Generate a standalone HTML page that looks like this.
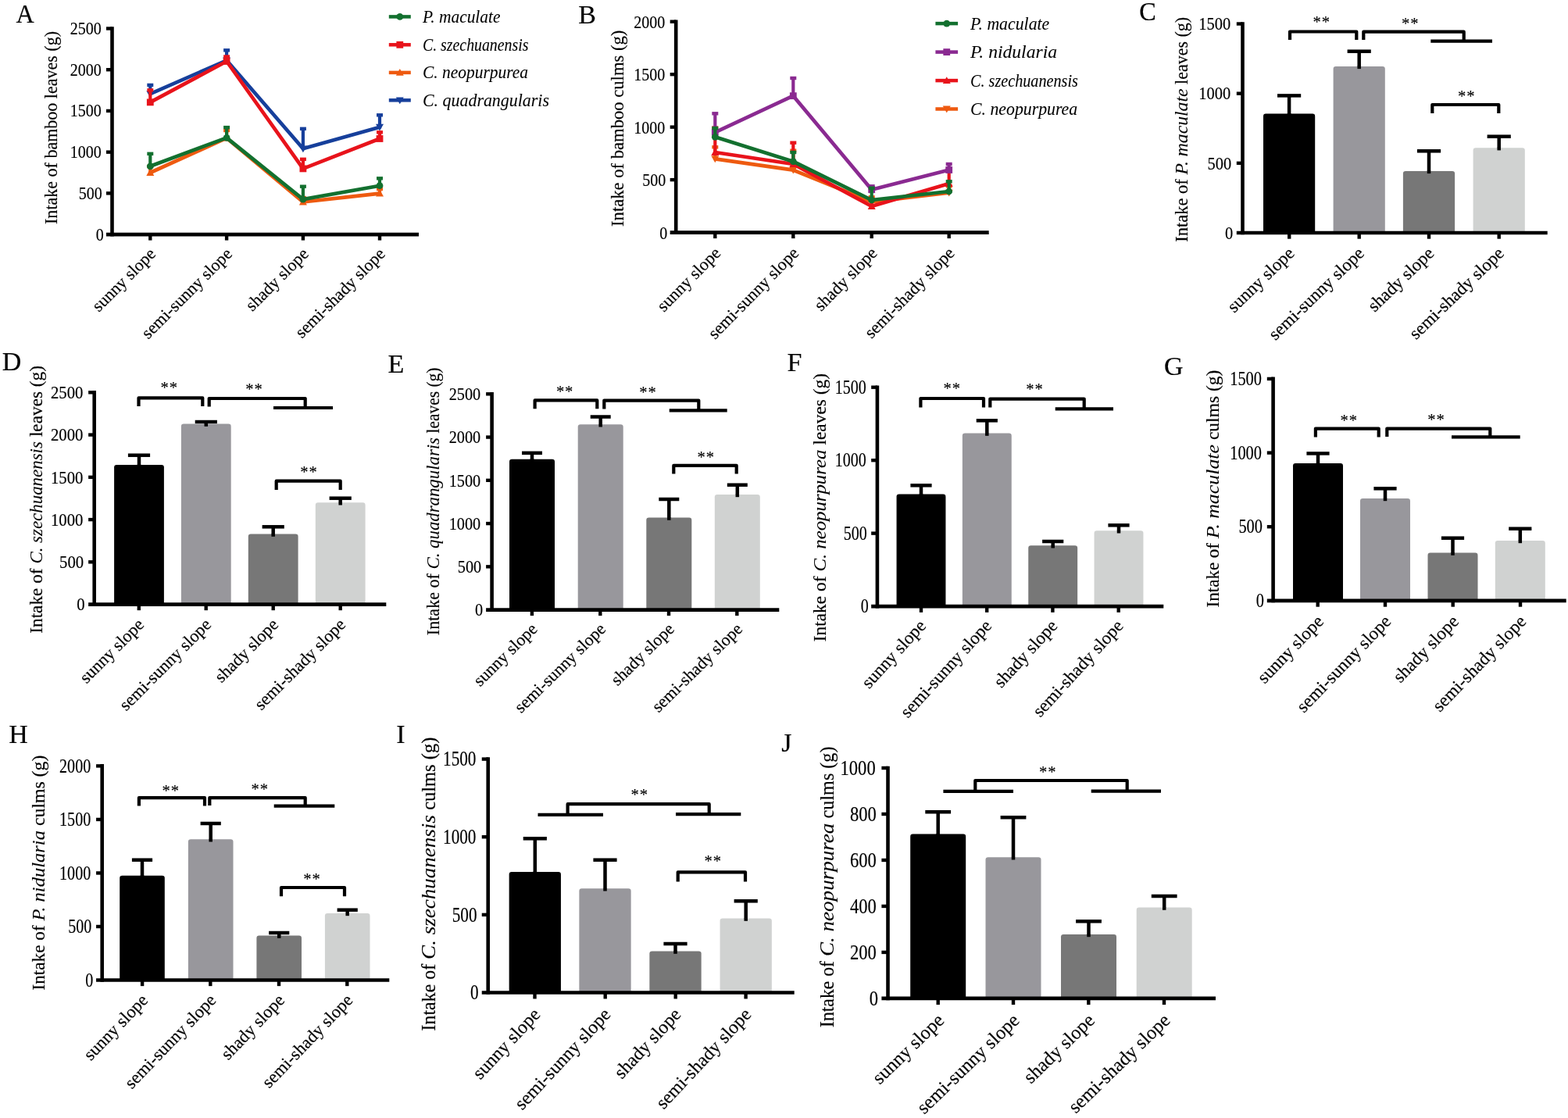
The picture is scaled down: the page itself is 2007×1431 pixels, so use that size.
<!DOCTYPE html>
<html lang="en">
<head>
<meta charset="utf-8">
<title>Intake of bamboo leaves and culms by slope aspect</title>
<style>
html,body{margin:0;padding:0;background:#fff;}
body{width:2007px;height:1431px;overflow:hidden;}
svg{display:block;font-family:'Liberation Serif', 'DejaVu Serif', serif;}
svg text{white-space:pre;}
</style>
</head>
<body>
<svg width="2007" height="1431" viewBox="0 0 2007 1431">
<rect width="2007" height="1431" fill="#fff"/>
<g id="panel-A">
<line x1="192.3" y1="120.2" x2="192.3" y2="108.9" stroke="#163f9b" stroke-width="4.2" stroke-linecap="butt"/>
<line x1="188.3" y1="108.9" x2="196.3" y2="108.9" stroke="#163f9b" stroke-width="4.4" stroke-linecap="butt"/>
<line x1="290.1" y1="77.3" x2="290.1" y2="64.3" stroke="#163f9b" stroke-width="4.2" stroke-linecap="butt"/>
<line x1="286.1" y1="64.3" x2="294.1" y2="64.3" stroke="#163f9b" stroke-width="4.4" stroke-linecap="butt"/>
<line x1="387.9" y1="190.3" x2="387.9" y2="164.8" stroke="#163f9b" stroke-width="4.2" stroke-linecap="butt"/>
<line x1="383.9" y1="164.8" x2="391.9" y2="164.8" stroke="#163f9b" stroke-width="4.4" stroke-linecap="butt"/>
<line x1="486" y1="162.7" x2="486" y2="147.3" stroke="#163f9b" stroke-width="4.2" stroke-linecap="butt"/>
<line x1="482" y1="147.3" x2="490" y2="147.3" stroke="#163f9b" stroke-width="4.4" stroke-linecap="butt"/>
<polyline points="192.3,120.2 290.1,77.3 387.9,190.3 486,162.7" fill="none" stroke="#163f9b" stroke-width="4.7" stroke-linejoin="round" stroke-linecap="round"/>
<path d="M192.3 125.1L197.3 116.3H187.3Z" fill="#163f9b"/>
<path d="M290.1 82.2L295.1 73.4H285.1Z" fill="#163f9b"/>
<path d="M387.9 195.2L392.9 186.4H382.9Z" fill="#163f9b"/>
<path d="M486 167.6L491 158.8H481Z" fill="#163f9b"/>
<line x1="192.3" y1="221" x2="192.3" y2="213" stroke="#ee5a10" stroke-width="4.2" stroke-linecap="butt"/>
<line x1="188.3" y1="213" x2="196.3" y2="213" stroke="#ee5a10" stroke-width="4.4" stroke-linecap="butt"/>
<line x1="290.1" y1="176.7" x2="290.1" y2="167" stroke="#ee5a10" stroke-width="4.2" stroke-linecap="butt"/>
<line x1="286.1" y1="167" x2="294.1" y2="167" stroke="#ee5a10" stroke-width="4.4" stroke-linecap="butt"/>
<line x1="387.9" y1="258.5" x2="387.9" y2="253" stroke="#ee5a10" stroke-width="4.2" stroke-linecap="butt"/>
<line x1="383.9" y1="253" x2="391.9" y2="253" stroke="#ee5a10" stroke-width="4.4" stroke-linecap="butt"/>
<line x1="486" y1="247.7" x2="486" y2="242" stroke="#ee5a10" stroke-width="4.2" stroke-linecap="butt"/>
<line x1="482" y1="242" x2="490" y2="242" stroke="#ee5a10" stroke-width="4.4" stroke-linecap="butt"/>
<polyline points="192.3,221 290.1,176.7 387.9,258.5 486,247.7" fill="none" stroke="#ee5a10" stroke-width="4.7" stroke-linejoin="round" stroke-linecap="round"/>
<path d="M192.3 216.1L197.3 224.9H187.3Z" fill="#ee5a10"/>
<path d="M290.1 171.8L295.1 180.6H285.1Z" fill="#ee5a10"/>
<path d="M387.9 253.6L392.9 262.4H382.9Z" fill="#ee5a10"/>
<path d="M486 242.8L491 251.6H481Z" fill="#ee5a10"/>
<line x1="192.3" y1="130.9" x2="192.3" y2="115.4" stroke="#e8131b" stroke-width="4.2" stroke-linecap="butt"/>
<line x1="188.3" y1="115.4" x2="196.3" y2="115.4" stroke="#e8131b" stroke-width="4.4" stroke-linecap="butt"/>
<line x1="290.1" y1="78.5" x2="290.1" y2="72.5" stroke="#e8131b" stroke-width="4.2" stroke-linecap="butt"/>
<line x1="286.1" y1="72.5" x2="294.1" y2="72.5" stroke="#e8131b" stroke-width="4.4" stroke-linecap="butt"/>
<line x1="387.9" y1="215.9" x2="387.9" y2="203.8" stroke="#e8131b" stroke-width="4.2" stroke-linecap="butt"/>
<line x1="383.9" y1="203.8" x2="391.9" y2="203.8" stroke="#e8131b" stroke-width="4.4" stroke-linecap="butt"/>
<line x1="486" y1="177.5" x2="486" y2="169.3" stroke="#e8131b" stroke-width="4.2" stroke-linecap="butt"/>
<line x1="482" y1="169.3" x2="490" y2="169.3" stroke="#e8131b" stroke-width="4.4" stroke-linecap="butt"/>
<polyline points="192.3,130.9 290.1,78.5 387.9,215.9 486,177.5" fill="none" stroke="#e8131b" stroke-width="4.7" stroke-linejoin="round" stroke-linecap="round"/>
<rect x="187.9" y="126.5" width="8.8" height="8.8" fill="#e8131b"/>
<rect x="285.7" y="74.1" width="8.8" height="8.8" fill="#e8131b"/>
<rect x="383.5" y="211.5" width="8.8" height="8.8" fill="#e8131b"/>
<rect x="481.6" y="173.1" width="8.8" height="8.8" fill="#e8131b"/>
<line x1="192.3" y1="212.8" x2="192.3" y2="196.8" stroke="#13702f" stroke-width="4.2" stroke-linecap="butt"/>
<line x1="188.3" y1="196.8" x2="196.3" y2="196.8" stroke="#13702f" stroke-width="4.4" stroke-linecap="butt"/>
<line x1="290.1" y1="176.4" x2="290.1" y2="163.1" stroke="#13702f" stroke-width="4.2" stroke-linecap="butt"/>
<line x1="286.1" y1="163.1" x2="294.1" y2="163.1" stroke="#13702f" stroke-width="4.4" stroke-linecap="butt"/>
<line x1="387.9" y1="255.1" x2="387.9" y2="238.7" stroke="#13702f" stroke-width="4.2" stroke-linecap="butt"/>
<line x1="383.9" y1="238.7" x2="391.9" y2="238.7" stroke="#13702f" stroke-width="4.4" stroke-linecap="butt"/>
<line x1="486" y1="237.7" x2="486" y2="228.3" stroke="#13702f" stroke-width="4.2" stroke-linecap="butt"/>
<line x1="482" y1="228.3" x2="490" y2="228.3" stroke="#13702f" stroke-width="4.4" stroke-linecap="butt"/>
<polyline points="192.3,212.8 290.1,176.4 387.9,255.1 486,237.7" fill="none" stroke="#13702f" stroke-width="4.7" stroke-linejoin="round" stroke-linecap="round"/>
<circle cx="192.3" cy="212.8" r="4.4" fill="#13702f"/>
<circle cx="290.1" cy="176.4" r="4.4" fill="#13702f"/>
<circle cx="387.9" cy="255.1" r="4.4" fill="#13702f"/>
<circle cx="486" cy="237.7" r="4.4" fill="#13702f"/>
<line x1="143.5" y1="34.2" x2="143.5" y2="302.4" stroke="#000" stroke-width="4.6" stroke-linecap="butt"/>
<line x1="136" y1="300.1" x2="536" y2="300.1" stroke="#000" stroke-width="4.6" stroke-linecap="butt"/>
<text transform="translate(122.86 307.65) scale(0.875 1)" font-size="22.88" text-anchor="start" fill="#000" stroke="#000" stroke-width="0.18">0</text>
<line x1="136" y1="247.38" x2="143.5" y2="247.38" stroke="#000" stroke-width="4.4" stroke-linecap="butt"/>
<text transform="translate(100.86 254.93) scale(0.875 1)" font-size="22.88" text-anchor="start" fill="#000" stroke="#000" stroke-width="0.18">500</text>
<line x1="136" y1="194.66" x2="143.5" y2="194.66" stroke="#000" stroke-width="4.4" stroke-linecap="butt"/>
<text transform="translate(89.86 202.21) scale(0.875 1)" font-size="22.88" text-anchor="start" fill="#000" stroke="#000" stroke-width="0.18">1000</text>
<line x1="136" y1="141.94" x2="143.5" y2="141.94" stroke="#000" stroke-width="4.4" stroke-linecap="butt"/>
<text transform="translate(89.86 149.49) scale(0.875 1)" font-size="22.88" text-anchor="start" fill="#000" stroke="#000" stroke-width="0.18">1500</text>
<line x1="136" y1="89.22" x2="143.5" y2="89.22" stroke="#000" stroke-width="4.4" stroke-linecap="butt"/>
<text transform="translate(89.86 96.77) scale(0.875 1)" font-size="22.88" text-anchor="start" fill="#000" stroke="#000" stroke-width="0.18">2000</text>
<line x1="136" y1="36.5" x2="143.5" y2="36.5" stroke="#000" stroke-width="4.4" stroke-linecap="butt"/>
<text transform="translate(89.86 44.05) scale(0.875 1)" font-size="22.88" text-anchor="start" fill="#000" stroke="#000" stroke-width="0.18">2500</text>
<line x1="192.3" y1="300.1" x2="192.3" y2="307.6" stroke="#000" stroke-width="4.4" stroke-linecap="butt"/>
<text transform="translate(200.5 326.2) rotate(-45)" font-size="22" text-anchor="end" fill="#000" stroke="#000" stroke-width="0.18">sunny slope</text>
<line x1="290.1" y1="300.1" x2="290.1" y2="307.6" stroke="#000" stroke-width="4.4" stroke-linecap="butt"/>
<text transform="translate(298.3 326.2) rotate(-45)" font-size="22" text-anchor="end" fill="#000" stroke="#000" stroke-width="0.18">semi-sunny slope</text>
<line x1="387.9" y1="300.1" x2="387.9" y2="307.6" stroke="#000" stroke-width="4.4" stroke-linecap="butt"/>
<text transform="translate(396.1 326.2) rotate(-45)" font-size="22" text-anchor="end" fill="#000" stroke="#000" stroke-width="0.18">shady slope</text>
<line x1="486" y1="300.1" x2="486" y2="307.6" stroke="#000" stroke-width="4.4" stroke-linecap="butt"/>
<text transform="translate(494.2 326.2) rotate(-45)" font-size="22" text-anchor="end" fill="#000" stroke="#000" stroke-width="0.18">semi-shady slope</text>
<text transform="translate(72.6 163.5) rotate(-90) scale(0.983 1)" font-size="22.4" text-anchor="middle" fill="#000" stroke="#000" stroke-width="0.18">Intake of bamboo leaves (g)</text>
<text transform="translate(20.4 29.3) scale(0.95 1)" font-size="34" text-anchor="start" fill="#000" stroke="#000" stroke-width="0.18">A</text>
<line x1="497.8" y1="21.4" x2="525.8" y2="21.4" stroke="#13702f" stroke-width="4.5" stroke-linecap="butt"/>
<circle cx="511.8" cy="21.4" r="4.4" fill="#13702f"/>
<text transform="translate(541 28.8) scale(0.947 1)" font-size="22.6" text-anchor="start" font-style="italic" fill="#000" stroke="#000" stroke-width="0.05">P. maculate</text>
<line x1="497.8" y1="57.3" x2="525.8" y2="57.3" stroke="#e8131b" stroke-width="4.5" stroke-linecap="butt"/>
<rect x="507.4" y="52.9" width="8.8" height="8.8" fill="#e8131b"/>
<text transform="translate(541 64.7) scale(0.877 1)" font-size="22.6" text-anchor="start" font-style="italic" fill="#000" stroke="#000" stroke-width="0.05">C. szechuanensis</text>
<line x1="497.8" y1="92.9" x2="525.8" y2="92.9" stroke="#ee5a10" stroke-width="4.5" stroke-linecap="butt"/>
<path d="M511.8 88L516.8 96.8H506.8Z" fill="#ee5a10"/>
<text transform="translate(541 100.3) scale(0.949 1)" font-size="22.6" text-anchor="start" font-style="italic" fill="#000" stroke="#000" stroke-width="0.05">C. neopurpurea</text>
<line x1="497.8" y1="128.3" x2="525.8" y2="128.3" stroke="#163f9b" stroke-width="4.5" stroke-linecap="butt"/>
<path d="M511.8 133.2L516.8 124.4H506.8Z" fill="#163f9b"/>
<text transform="translate(541 135.7) scale(0.97 1)" font-size="22.6" text-anchor="start" font-style="italic" fill="#000" stroke="#000" stroke-width="0.05">C. quadrangularis</text>
</g>
<g id="panel-B">
<line x1="915.3" y1="203.4" x2="915.3" y2="188.3" stroke="#ee5a10" stroke-width="4.2" stroke-linecap="butt"/>
<line x1="911.3" y1="188.3" x2="919.3" y2="188.3" stroke="#ee5a10" stroke-width="4.4" stroke-linecap="butt"/>
<line x1="1015.3" y1="217.7" x2="1015.3" y2="192.7" stroke="#ee5a10" stroke-width="4.2" stroke-linecap="butt"/>
<line x1="1011.3" y1="192.7" x2="1019.3" y2="192.7" stroke="#ee5a10" stroke-width="4.4" stroke-linecap="butt"/>
<line x1="1115.7" y1="258.3" x2="1115.7" y2="252.3" stroke="#ee5a10" stroke-width="4.2" stroke-linecap="butt"/>
<line x1="1111.7" y1="252.3" x2="1119.7" y2="252.3" stroke="#ee5a10" stroke-width="4.4" stroke-linecap="butt"/>
<line x1="1214.7" y1="246.7" x2="1214.7" y2="238.3" stroke="#ee5a10" stroke-width="4.2" stroke-linecap="butt"/>
<line x1="1210.7" y1="238.3" x2="1218.7" y2="238.3" stroke="#ee5a10" stroke-width="4.4" stroke-linecap="butt"/>
<polyline points="915.3,203.4 1015.3,217.7 1115.7,258.3 1214.7,246.7" fill="none" stroke="#ee5a10" stroke-width="4.7" stroke-linejoin="round" stroke-linecap="round"/>
<path d="M915.3 208.3L920.3 199.5H910.3Z" fill="#ee5a10"/>
<path d="M1015.3 222.6L1020.3 213.8H1010.3Z" fill="#ee5a10"/>
<path d="M1115.7 263.2L1120.7 254.4H1110.7Z" fill="#ee5a10"/>
<path d="M1214.7 251.6L1219.7 242.8H1209.7Z" fill="#ee5a10"/>
<line x1="915.3" y1="195" x2="915.3" y2="163.6" stroke="#e8131b" stroke-width="4.2" stroke-linecap="butt"/>
<line x1="911.3" y1="163.6" x2="919.3" y2="163.6" stroke="#e8131b" stroke-width="4.4" stroke-linecap="butt"/>
<line x1="1015.3" y1="210" x2="1015.3" y2="182.7" stroke="#e8131b" stroke-width="4.2" stroke-linecap="butt"/>
<line x1="1011.3" y1="182.7" x2="1019.3" y2="182.7" stroke="#e8131b" stroke-width="4.4" stroke-linecap="butt"/>
<line x1="1115.7" y1="264" x2="1115.7" y2="255" stroke="#e8131b" stroke-width="4.2" stroke-linecap="butt"/>
<line x1="1111.7" y1="255" x2="1119.7" y2="255" stroke="#e8131b" stroke-width="4.4" stroke-linecap="butt"/>
<line x1="1214.7" y1="235" x2="1214.7" y2="216.7" stroke="#e8131b" stroke-width="4.2" stroke-linecap="butt"/>
<line x1="1210.7" y1="216.7" x2="1218.7" y2="216.7" stroke="#e8131b" stroke-width="4.4" stroke-linecap="butt"/>
<polyline points="915.3,195 1015.3,210 1115.7,264 1214.7,235" fill="none" stroke="#e8131b" stroke-width="4.7" stroke-linejoin="round" stroke-linecap="round"/>
<path d="M915.3 190.1L920.3 198.9H910.3Z" fill="#e8131b"/>
<path d="M1015.3 205.1L1020.3 213.9H1010.3Z" fill="#e8131b"/>
<path d="M1115.7 259.1L1120.7 267.9H1110.7Z" fill="#e8131b"/>
<path d="M1214.7 230.1L1219.7 238.9H1209.7Z" fill="#e8131b"/>
<line x1="915.3" y1="169.3" x2="915.3" y2="145.3" stroke="#8a2a91" stroke-width="4.2" stroke-linecap="butt"/>
<line x1="911.3" y1="145.3" x2="919.3" y2="145.3" stroke="#8a2a91" stroke-width="4.4" stroke-linecap="butt"/>
<line x1="1015.3" y1="122.7" x2="1015.3" y2="100" stroke="#8a2a91" stroke-width="4.2" stroke-linecap="butt"/>
<line x1="1011.3" y1="100" x2="1019.3" y2="100" stroke="#8a2a91" stroke-width="4.4" stroke-linecap="butt"/>
<line x1="1115.7" y1="242.7" x2="1115.7" y2="238.3" stroke="#8a2a91" stroke-width="4.2" stroke-linecap="butt"/>
<line x1="1111.7" y1="238.3" x2="1119.7" y2="238.3" stroke="#8a2a91" stroke-width="4.4" stroke-linecap="butt"/>
<line x1="1214.7" y1="217.5" x2="1214.7" y2="210" stroke="#8a2a91" stroke-width="4.2" stroke-linecap="butt"/>
<line x1="1210.7" y1="210" x2="1218.7" y2="210" stroke="#8a2a91" stroke-width="4.4" stroke-linecap="butt"/>
<polyline points="915.3,169.3 1015.3,122.7 1115.7,242.7 1214.7,217.5" fill="none" stroke="#8a2a91" stroke-width="4.7" stroke-linejoin="round" stroke-linecap="round"/>
<rect x="910.9" y="164.9" width="8.8" height="8.8" fill="#8a2a91"/>
<rect x="1010.9" y="118.3" width="8.8" height="8.8" fill="#8a2a91"/>
<rect x="1111.3" y="238.3" width="8.8" height="8.8" fill="#8a2a91"/>
<rect x="1210.3" y="213.1" width="8.8" height="8.8" fill="#8a2a91"/>
<line x1="915.3" y1="175.3" x2="915.3" y2="164" stroke="#13702f" stroke-width="4.2" stroke-linecap="butt"/>
<line x1="911.3" y1="164" x2="919.3" y2="164" stroke="#13702f" stroke-width="4.4" stroke-linecap="butt"/>
<line x1="1015.3" y1="206.7" x2="1015.3" y2="195" stroke="#13702f" stroke-width="4.2" stroke-linecap="butt"/>
<line x1="1011.3" y1="195" x2="1019.3" y2="195" stroke="#13702f" stroke-width="4.4" stroke-linecap="butt"/>
<line x1="1115.7" y1="256" x2="1115.7" y2="240.7" stroke="#13702f" stroke-width="4.2" stroke-linecap="butt"/>
<line x1="1111.7" y1="240.7" x2="1119.7" y2="240.7" stroke="#13702f" stroke-width="4.4" stroke-linecap="butt"/>
<line x1="1214.7" y1="245" x2="1214.7" y2="232.3" stroke="#13702f" stroke-width="4.2" stroke-linecap="butt"/>
<line x1="1210.7" y1="232.3" x2="1218.7" y2="232.3" stroke="#13702f" stroke-width="4.4" stroke-linecap="butt"/>
<polyline points="915.3,175.3 1015.3,206.7 1115.7,256 1214.7,245" fill="none" stroke="#13702f" stroke-width="4.7" stroke-linejoin="round" stroke-linecap="round"/>
<circle cx="915.3" cy="175.3" r="4.4" fill="#13702f"/>
<circle cx="1015.3" cy="206.7" r="4.4" fill="#13702f"/>
<circle cx="1115.7" cy="256" r="4.4" fill="#13702f"/>
<circle cx="1214.7" cy="245" r="4.4" fill="#13702f"/>
<line x1="865.2" y1="25.4" x2="865.2" y2="299.9" stroke="#000" stroke-width="4.6" stroke-linecap="butt"/>
<line x1="857.66" y1="297.6" x2="1265.7" y2="297.6" stroke="#000" stroke-width="4.6" stroke-linecap="butt"/>
<text transform="translate(844.26 305.51) scale(0.835 1)" font-size="23.98" text-anchor="start" fill="#000" stroke="#000" stroke-width="0.18">0</text>
<line x1="857.66" y1="230.12" x2="865.2" y2="230.12" stroke="#000" stroke-width="4.4" stroke-linecap="butt"/>
<text transform="translate(822.26 238.04) scale(0.835 1)" font-size="23.98" text-anchor="start" fill="#000" stroke="#000" stroke-width="0.18">500</text>
<line x1="857.66" y1="162.65" x2="865.2" y2="162.65" stroke="#000" stroke-width="4.4" stroke-linecap="butt"/>
<text transform="translate(811.26 170.56) scale(0.835 1)" font-size="23.98" text-anchor="start" fill="#000" stroke="#000" stroke-width="0.18">1000</text>
<line x1="857.66" y1="95.18" x2="865.2" y2="95.18" stroke="#000" stroke-width="4.4" stroke-linecap="butt"/>
<text transform="translate(811.26 103.09) scale(0.835 1)" font-size="23.98" text-anchor="start" fill="#000" stroke="#000" stroke-width="0.18">1500</text>
<line x1="857.66" y1="27.7" x2="865.2" y2="27.7" stroke="#000" stroke-width="4.4" stroke-linecap="butt"/>
<text transform="translate(811.26 35.61) scale(0.835 1)" font-size="23.98" text-anchor="start" fill="#000" stroke="#000" stroke-width="0.18">2000</text>
<line x1="915.3" y1="297.6" x2="915.3" y2="305.14" stroke="#000" stroke-width="4.4" stroke-linecap="butt"/>
<text transform="translate(923.56 325.2) rotate(-45.43)" font-size="22.17" text-anchor="end" fill="#000" stroke="#000" stroke-width="0.18">sunny slope</text>
<line x1="1015.3" y1="297.6" x2="1015.3" y2="305.14" stroke="#000" stroke-width="4.4" stroke-linecap="butt"/>
<text transform="translate(1023.56 325.2) rotate(-45.43)" font-size="22.17" text-anchor="end" fill="#000" stroke="#000" stroke-width="0.18">semi-sunny slope</text>
<line x1="1115.7" y1="297.6" x2="1115.7" y2="305.14" stroke="#000" stroke-width="4.4" stroke-linecap="butt"/>
<text transform="translate(1123.96 325.2) rotate(-45.43)" font-size="22.17" text-anchor="end" fill="#000" stroke="#000" stroke-width="0.18">shady slope</text>
<line x1="1214.7" y1="297.6" x2="1214.7" y2="305.14" stroke="#000" stroke-width="4.4" stroke-linecap="butt"/>
<text transform="translate(1222.96 325.2) rotate(-45.43)" font-size="22.17" text-anchor="end" fill="#000" stroke="#000" stroke-width="0.18">semi-shady slope</text>
<text transform="translate(797.6 164.3) rotate(-90) scale(1.001 1)" font-size="22.6" text-anchor="middle" fill="#000" stroke="#000" stroke-width="0.18">Intake of bamboo culms (g)</text>
<text transform="translate(740.3 29.9)" font-size="34" text-anchor="start" fill="#000" stroke="#000" stroke-width="0.18">B</text>
<line x1="1197.4" y1="30.1" x2="1226.1" y2="30.1" stroke="#13702f" stroke-width="4.5" stroke-linecap="butt"/>
<circle cx="1211.75" cy="30.1" r="4.4" fill="#13702f"/>
<text transform="translate(1242 37.5) scale(0.948 1)" font-size="23" text-anchor="start" font-style="italic" fill="#000" stroke="#000" stroke-width="0.05">P. maculate</text>
<line x1="1197.4" y1="66.6" x2="1226.1" y2="66.6" stroke="#8a2a91" stroke-width="4.5" stroke-linecap="butt"/>
<rect x="1207.35" y="62.2" width="8.8" height="8.8" fill="#8a2a91"/>
<text transform="translate(1242 74) scale(1.026 1)" font-size="23" text-anchor="start" font-style="italic" fill="#000" stroke="#000" stroke-width="0.05">P. nidularia</text>
<line x1="1197.4" y1="103.1" x2="1226.1" y2="103.1" stroke="#e8131b" stroke-width="4.5" stroke-linecap="butt"/>
<path d="M1211.75 98.2L1216.75 107H1206.75Z" fill="#e8131b"/>
<text transform="translate(1242 110.5) scale(0.878 1)" font-size="23" text-anchor="start" font-style="italic" fill="#000" stroke="#000" stroke-width="0.05">C. szechuanensis</text>
<line x1="1197.4" y1="139.5" x2="1226.1" y2="139.5" stroke="#ee5a10" stroke-width="4.5" stroke-linecap="butt"/>
<path d="M1211.75 144.4L1216.75 135.6H1206.75Z" fill="#ee5a10"/>
<text transform="translate(1242 146.9) scale(0.948 1)" font-size="23" text-anchor="start" font-style="italic" fill="#000" stroke="#000" stroke-width="0.05">C. neopurpurea</text>
</g>
<g id="panel-C">
<line x1="1650.1" y1="148.5" x2="1650.1" y2="122.4" stroke="#000" stroke-width="4.5" stroke-linecap="butt"/>
<line x1="1635" y1="122.4" x2="1665.2" y2="122.4" stroke="#000" stroke-width="4.5" stroke-linecap="butt"/>
<line x1="1739.7" y1="87.9" x2="1739.7" y2="65.7" stroke="#000" stroke-width="4.5" stroke-linecap="butt"/>
<line x1="1724.6" y1="65.7" x2="1754.8" y2="65.7" stroke="#000" stroke-width="4.5" stroke-linecap="butt"/>
<line x1="1829" y1="221.9" x2="1829" y2="193.3" stroke="#000" stroke-width="4.5" stroke-linecap="butt"/>
<line x1="1813.9" y1="193.3" x2="1844.1" y2="193.3" stroke="#000" stroke-width="4.5" stroke-linecap="butt"/>
<line x1="1918.7" y1="192.2" x2="1918.7" y2="174.7" stroke="#000" stroke-width="4.5" stroke-linecap="butt"/>
<line x1="1903.6" y1="174.7" x2="1933.8" y2="174.7" stroke="#000" stroke-width="4.5" stroke-linecap="butt"/>
<path d="M1617 298V148.7Q1617 145.5 1620.2 145.5H1680Q1683.2 145.5 1683.2 148.7V298Z" fill="#000000"/>
<line x1="1650.1" y1="145" x2="1650.1" y2="148.7" stroke="#000" stroke-width="4.5" stroke-linecap="butt"/>
<path d="M1706.6 298V88.1Q1706.6 84.9 1709.8 84.9H1769.6Q1772.8 84.9 1772.8 88.1V298Z" fill="#98979c"/>
<line x1="1739.7" y1="84.4" x2="1739.7" y2="88.1" stroke="#000" stroke-width="4.5" stroke-linecap="butt"/>
<path d="M1795.9 298V222.1Q1795.9 218.9 1799.1 218.9H1858.9Q1862.1 218.9 1862.1 222.1V298Z" fill="#777777"/>
<line x1="1829" y1="218.4" x2="1829" y2="222.1" stroke="#000" stroke-width="4.5" stroke-linecap="butt"/>
<path d="M1885.6 298V192.4Q1885.6 189.2 1888.8 189.2H1948.6Q1951.8 189.2 1951.8 192.4V298Z" fill="#d0d2d1"/>
<line x1="1918.7" y1="188.7" x2="1918.7" y2="192.4" stroke="#000" stroke-width="4.5" stroke-linecap="butt"/>
<line x1="1590.5" y1="28.2" x2="1590.5" y2="300.3" stroke="#000" stroke-width="4.6" stroke-linecap="butt"/>
<line x1="1582.79" y1="298" x2="1980.7" y2="298" stroke="#000" stroke-width="4.6" stroke-linecap="butt"/>
<text transform="translate(1567.93 305.69) scale(0.875 1)" font-size="23.3" text-anchor="start" fill="#000" stroke="#000" stroke-width="0.18">0</text>
<line x1="1582.79" y1="208.83" x2="1590.5" y2="208.83" stroke="#000" stroke-width="4.4" stroke-linecap="butt"/>
<text transform="translate(1545.53 216.52) scale(0.875 1)" font-size="23.3" text-anchor="start" fill="#000" stroke="#000" stroke-width="0.18">500</text>
<line x1="1582.79" y1="119.67" x2="1590.5" y2="119.67" stroke="#000" stroke-width="4.4" stroke-linecap="butt"/>
<text transform="translate(1534.33 127.35) scale(0.875 1)" font-size="23.3" text-anchor="start" fill="#000" stroke="#000" stroke-width="0.18">1000</text>
<line x1="1582.79" y1="30.5" x2="1590.5" y2="30.5" stroke="#000" stroke-width="4.4" stroke-linecap="butt"/>
<text transform="translate(1534.33 38.19) scale(0.875 1)" font-size="23.3" text-anchor="start" fill="#000" stroke="#000" stroke-width="0.18">1500</text>
<line x1="1650.2" y1="298" x2="1650.2" y2="305.71" stroke="#000" stroke-width="4.4" stroke-linecap="butt"/>
<text transform="translate(1657.94 325.67) rotate(-43.98)" font-size="22.9" text-anchor="end" fill="#000" stroke="#000" stroke-width="0.18">sunny slope</text>
<line x1="1739.7" y1="298" x2="1739.7" y2="305.71" stroke="#000" stroke-width="4.4" stroke-linecap="butt"/>
<text transform="translate(1747.44 325.67) rotate(-43.98)" font-size="22.9" text-anchor="end" fill="#000" stroke="#000" stroke-width="0.18">semi-sunny slope</text>
<line x1="1829" y1="298" x2="1829" y2="305.71" stroke="#000" stroke-width="4.4" stroke-linecap="butt"/>
<text transform="translate(1836.74 325.67) rotate(-43.98)" font-size="22.9" text-anchor="end" fill="#000" stroke="#000" stroke-width="0.18">shady slope</text>
<line x1="1918.7" y1="298" x2="1918.7" y2="305.71" stroke="#000" stroke-width="4.4" stroke-linecap="butt"/>
<text transform="translate(1926.44 325.67) rotate(-43.98)" font-size="22.9" text-anchor="end" fill="#000" stroke="#000" stroke-width="0.18">semi-shady slope</text>
<text transform="translate(1520.4 309.8) rotate(-90) scale(0.954 1)" font-size="23.6" text-anchor="start" fill="#000" stroke="#000" stroke-width="0.18">Intake of</text>
<text transform="translate(1520.4 223.5) rotate(-90) scale(1.003 1)" font-size="23.6" text-anchor="start" font-style="italic" fill="#000" stroke="#000" stroke-width="0.05">P. maculate</text>
<text transform="translate(1520.4 21.8) rotate(-90) scale(0.933 1)" font-size="23.6" text-anchor="end" fill="#000" stroke="#000" stroke-width="0.18">leaves (g)</text>
<text transform="translate(1458.3 26) scale(0.95 1)" font-size="34" text-anchor="start" fill="#000" stroke="#000" stroke-width="0.18">C</text>
<path d="M1651 51.1V40.5H1736.3V51.1" fill="none" stroke="#000" stroke-width="4.2" stroke-linejoin="round"/>
<path d="M1745.3 51V40.7H1873.7V52.7" fill="none" stroke="#000" stroke-width="4.2" stroke-linejoin="round"/>
<line x1="1831.3" y1="52.7" x2="1910" y2="52.7" stroke="#000" stroke-width="4.2" stroke-linecap="butt"/>
<path d="M1833.3 145V134H1918.3V145" fill="none" stroke="#000" stroke-width="4.2" stroke-linejoin="round"/>
<text transform="translate(1691.75 35.47)" font-size="20.5" text-anchor="middle" fill="#000" stroke="#000" stroke-width="0.1" letter-spacing="0.9">**</text>
<text transform="translate(1805.15 36.67)" font-size="20.5" text-anchor="middle" fill="#000" stroke="#000" stroke-width="0.1" letter-spacing="0.9">**</text>
<text transform="translate(1877.15 129.67)" font-size="20.5" text-anchor="middle" fill="#000" stroke="#000" stroke-width="0.1" letter-spacing="0.9">**</text>
</g>
<g id="panel-D">
<line x1="178" y1="598" x2="178" y2="582.7" stroke="#000" stroke-width="4.5" stroke-linecap="butt"/>
<line x1="163.9" y1="582.7" x2="192.1" y2="582.7" stroke="#000" stroke-width="4.5" stroke-linecap="butt"/>
<line x1="263.8" y1="545.6" x2="263.8" y2="540" stroke="#000" stroke-width="4.5" stroke-linecap="butt"/>
<line x1="249.7" y1="540" x2="277.9" y2="540" stroke="#000" stroke-width="4.5" stroke-linecap="butt"/>
<line x1="349.7" y1="686.6" x2="349.7" y2="674.3" stroke="#000" stroke-width="4.5" stroke-linecap="butt"/>
<line x1="335.6" y1="674.3" x2="363.8" y2="674.3" stroke="#000" stroke-width="4.5" stroke-linecap="butt"/>
<line x1="435.7" y1="646.3" x2="435.7" y2="637.7" stroke="#000" stroke-width="4.5" stroke-linecap="butt"/>
<line x1="421.6" y1="637.7" x2="449.8" y2="637.7" stroke="#000" stroke-width="4.5" stroke-linecap="butt"/>
<path d="M146.1 773.6V598.2Q146.1 595 149.3 595H206.7Q209.9 595 209.9 598.2V773.6Z" fill="#000000"/>
<line x1="178" y1="594.5" x2="178" y2="598.2" stroke="#000" stroke-width="4.5" stroke-linecap="butt"/>
<path d="M231.9 773.6V545.8Q231.9 542.6 235.1 542.6H292.5Q295.7 542.6 295.7 545.8V773.6Z" fill="#98979c"/>
<line x1="263.8" y1="542.1" x2="263.8" y2="545.8" stroke="#000" stroke-width="4.5" stroke-linecap="butt"/>
<path d="M317.8 773.6V686.8Q317.8 683.6 321 683.6H378.4Q381.6 683.6 381.6 686.8V773.6Z" fill="#777777"/>
<line x1="349.7" y1="683.1" x2="349.7" y2="686.8" stroke="#000" stroke-width="4.5" stroke-linecap="butt"/>
<path d="M403.8 773.6V646.5Q403.8 643.3 407 643.3H464.4Q467.6 643.3 467.6 646.5V773.6Z" fill="#d0d2d1"/>
<line x1="435.7" y1="642.8" x2="435.7" y2="646.5" stroke="#000" stroke-width="4.5" stroke-linecap="butt"/>
<line x1="120.7" y1="500" x2="120.7" y2="775.9" stroke="#000" stroke-width="4.6" stroke-linecap="butt"/>
<line x1="113.13" y1="773.6" x2="494.3" y2="773.6" stroke="#000" stroke-width="4.6" stroke-linecap="butt"/>
<text transform="translate(98.37 781.47) scale(0.869 1)" font-size="23.86" text-anchor="start" fill="#000" stroke="#000" stroke-width="0.18">0</text>
<line x1="113.13" y1="719.34" x2="120.7" y2="719.34" stroke="#000" stroke-width="4.4" stroke-linecap="butt"/>
<text transform="translate(76.07 727.21) scale(0.869 1)" font-size="23.86" text-anchor="start" fill="#000" stroke="#000" stroke-width="0.18">500</text>
<line x1="113.13" y1="665.08" x2="120.7" y2="665.08" stroke="#000" stroke-width="4.4" stroke-linecap="butt"/>
<text transform="translate(64.92 672.95) scale(0.869 1)" font-size="23.86" text-anchor="start" fill="#000" stroke="#000" stroke-width="0.18">1000</text>
<line x1="113.13" y1="610.82" x2="120.7" y2="610.82" stroke="#000" stroke-width="4.4" stroke-linecap="butt"/>
<text transform="translate(64.92 618.69) scale(0.869 1)" font-size="23.86" text-anchor="start" fill="#000" stroke="#000" stroke-width="0.18">1500</text>
<line x1="113.13" y1="556.56" x2="120.7" y2="556.56" stroke="#000" stroke-width="4.4" stroke-linecap="butt"/>
<text transform="translate(64.92 564.43) scale(0.869 1)" font-size="23.86" text-anchor="start" fill="#000" stroke="#000" stroke-width="0.18">2000</text>
<line x1="113.13" y1="502.3" x2="120.7" y2="502.3" stroke="#000" stroke-width="4.4" stroke-linecap="butt"/>
<text transform="translate(64.92 510.17) scale(0.869 1)" font-size="23.86" text-anchor="start" fill="#000" stroke="#000" stroke-width="0.18">2500</text>
<line x1="177.8" y1="773.6" x2="177.8" y2="781.17" stroke="#000" stroke-width="4.4" stroke-linecap="butt"/>
<text transform="translate(185.61 800.86) rotate(-45)" font-size="22.3" text-anchor="end" fill="#000" stroke="#000" stroke-width="0.18">sunny slope</text>
<line x1="263.7" y1="773.6" x2="263.7" y2="781.17" stroke="#000" stroke-width="4.4" stroke-linecap="butt"/>
<text transform="translate(271.51 800.86) rotate(-45)" font-size="22.3" text-anchor="end" fill="#000" stroke="#000" stroke-width="0.18">semi-sunny slope</text>
<line x1="349.7" y1="773.6" x2="349.7" y2="781.17" stroke="#000" stroke-width="4.4" stroke-linecap="butt"/>
<text transform="translate(357.51 800.86) rotate(-45)" font-size="22.3" text-anchor="end" fill="#000" stroke="#000" stroke-width="0.18">shady slope</text>
<line x1="435.7" y1="773.6" x2="435.7" y2="781.17" stroke="#000" stroke-width="4.4" stroke-linecap="butt"/>
<text transform="translate(443.51 800.86) rotate(-45)" font-size="22.3" text-anchor="end" fill="#000" stroke="#000" stroke-width="0.18">semi-shady slope</text>
<text transform="translate(53.5 810.7) rotate(-90) scale(1.011 1)" font-size="23" text-anchor="start" fill="#000" stroke="#000" stroke-width="0.18">Intake of</text>
<text transform="translate(53.5 721.6) rotate(-90) scale(0.996 1)" font-size="23" text-anchor="start" font-style="italic" fill="#000" stroke="#000" stroke-width="0.05">C. szechuanensis</text>
<text transform="translate(53.5 468) rotate(-90) scale(1.013 1)" font-size="23" text-anchor="end" fill="#000" stroke="#000" stroke-width="0.18">leaves (g)</text>
<text transform="translate(2.8 473.6)" font-size="34" text-anchor="start" fill="#000" stroke="#000" stroke-width="0.18">D</text>
<path d="M177.5 520V509.3H259.3V520" fill="none" stroke="#000" stroke-width="4.2" stroke-linejoin="round"/>
<path d="M267.7 520.5V510H390.7V522" fill="none" stroke="#000" stroke-width="4.2" stroke-linejoin="round"/>
<line x1="350" y1="522" x2="426" y2="522" stroke="#000" stroke-width="4.2" stroke-linecap="butt"/>
<path d="M353.7 627V615.7H435.7V627" fill="none" stroke="#000" stroke-width="4.2" stroke-linejoin="round"/>
<text transform="translate(216.75 503.47)" font-size="20.5" text-anchor="middle" fill="#000" stroke="#000" stroke-width="0.1" letter-spacing="0.9">**</text>
<text transform="translate(325.45 504.87)" font-size="20.5" text-anchor="middle" fill="#000" stroke="#000" stroke-width="0.1" letter-spacing="0.9">**</text>
<text transform="translate(395.45 610.97)" font-size="20.5" text-anchor="middle" fill="#000" stroke="#000" stroke-width="0.1" letter-spacing="0.9">**</text>
</g>
<g id="panel-E">
<line x1="681" y1="590.7" x2="681" y2="579.8" stroke="#000" stroke-width="4.5" stroke-linecap="butt"/>
<line x1="668" y1="579.8" x2="694" y2="579.8" stroke="#000" stroke-width="4.5" stroke-linecap="butt"/>
<line x1="768.7" y1="546.3" x2="768.7" y2="533.5" stroke="#000" stroke-width="4.5" stroke-linecap="butt"/>
<line x1="755.7" y1="533.5" x2="781.7" y2="533.5" stroke="#000" stroke-width="4.5" stroke-linecap="butt"/>
<line x1="856.3" y1="665.6" x2="856.3" y2="639" stroke="#000" stroke-width="4.5" stroke-linecap="butt"/>
<line x1="843.3" y1="639" x2="869.3" y2="639" stroke="#000" stroke-width="4.5" stroke-linecap="butt"/>
<line x1="943.8" y1="636" x2="943.8" y2="620.7" stroke="#000" stroke-width="4.5" stroke-linecap="butt"/>
<line x1="930.8" y1="620.7" x2="956.8" y2="620.7" stroke="#000" stroke-width="4.5" stroke-linecap="butt"/>
<path d="M652 780.6V590.9Q652 587.7 655.2 587.7H706.8Q710 587.7 710 590.9V780.6Z" fill="#000000"/>
<line x1="681" y1="587.2" x2="681" y2="590.9" stroke="#000" stroke-width="4.5" stroke-linecap="butt"/>
<path d="M739.7 780.6V546.5Q739.7 543.3 742.9 543.3H794.5Q797.7 543.3 797.7 546.5V780.6Z" fill="#98979c"/>
<line x1="768.7" y1="542.8" x2="768.7" y2="546.5" stroke="#000" stroke-width="4.5" stroke-linecap="butt"/>
<path d="M827.3 780.6V665.8Q827.3 662.6 830.5 662.6H882.1Q885.3 662.6 885.3 665.8V780.6Z" fill="#777777"/>
<line x1="856.3" y1="662.1" x2="856.3" y2="665.8" stroke="#000" stroke-width="4.5" stroke-linecap="butt"/>
<path d="M914.8 780.6V636.2Q914.8 633 918 633H969.6Q972.8 633 972.8 636.2V780.6Z" fill="#d0d2d1"/>
<line x1="943.8" y1="632.5" x2="943.8" y2="636.2" stroke="#000" stroke-width="4.5" stroke-linecap="butt"/>
<line x1="629.6" y1="502" x2="629.6" y2="782.9" stroke="#000" stroke-width="4.6" stroke-linecap="butt"/>
<line x1="622.1" y1="780.6" x2="997.3" y2="780.6" stroke="#000" stroke-width="4.6" stroke-linecap="butt"/>
<text transform="translate(608 788.29) scale(0.867 1)" font-size="23.31" text-anchor="start" fill="#000" stroke="#000" stroke-width="0.18">0</text>
<line x1="622.1" y1="725.34" x2="629.6" y2="725.34" stroke="#000" stroke-width="4.4" stroke-linecap="butt"/>
<text transform="translate(585.8 733.03) scale(0.867 1)" font-size="23.31" text-anchor="start" fill="#000" stroke="#000" stroke-width="0.18">500</text>
<line x1="622.1" y1="670.08" x2="629.6" y2="670.08" stroke="#000" stroke-width="4.4" stroke-linecap="butt"/>
<text transform="translate(574.7 677.77) scale(0.867 1)" font-size="23.31" text-anchor="start" fill="#000" stroke="#000" stroke-width="0.18">1000</text>
<line x1="622.1" y1="614.82" x2="629.6" y2="614.82" stroke="#000" stroke-width="4.4" stroke-linecap="butt"/>
<text transform="translate(574.7 622.51) scale(0.867 1)" font-size="23.31" text-anchor="start" fill="#000" stroke="#000" stroke-width="0.18">1500</text>
<line x1="622.1" y1="559.56" x2="629.6" y2="559.56" stroke="#000" stroke-width="4.4" stroke-linecap="butt"/>
<text transform="translate(574.7 567.25) scale(0.867 1)" font-size="23.31" text-anchor="start" fill="#000" stroke="#000" stroke-width="0.18">2000</text>
<line x1="622.1" y1="504.3" x2="629.6" y2="504.3" stroke="#000" stroke-width="4.4" stroke-linecap="butt"/>
<text transform="translate(574.7 511.99) scale(0.867 1)" font-size="23.31" text-anchor="start" fill="#000" stroke="#000" stroke-width="0.18">2500</text>
<line x1="680.9" y1="780.6" x2="680.9" y2="788.1" stroke="#000" stroke-width="4.4" stroke-linecap="butt"/>
<text transform="translate(689.09 806.38) rotate(-44.42)" font-size="21.98" text-anchor="end" fill="#000" stroke="#000" stroke-width="0.18">sunny slope</text>
<line x1="768.3" y1="780.6" x2="768.3" y2="788.1" stroke="#000" stroke-width="4.4" stroke-linecap="butt"/>
<text transform="translate(776.49 806.38) rotate(-44.42)" font-size="21.98" text-anchor="end" fill="#000" stroke="#000" stroke-width="0.18">semi-sunny slope</text>
<line x1="856" y1="780.6" x2="856" y2="788.1" stroke="#000" stroke-width="4.4" stroke-linecap="butt"/>
<text transform="translate(864.19 806.38) rotate(-44.42)" font-size="21.98" text-anchor="end" fill="#000" stroke="#000" stroke-width="0.18">shady slope</text>
<line x1="943.3" y1="780.6" x2="943.3" y2="788.1" stroke="#000" stroke-width="4.4" stroke-linecap="butt"/>
<text transform="translate(951.49 806.38) rotate(-44.42)" font-size="21.98" text-anchor="end" fill="#000" stroke="#000" stroke-width="0.18">semi-shady slope</text>
<text transform="translate(561.6 813.2) rotate(-90) scale(0.965 1)" font-size="22.9" text-anchor="start" fill="#000" stroke="#000" stroke-width="0.18">Intake of</text>
<text transform="translate(561.6 728.5) rotate(-90) scale(0.996 1)" font-size="22.9" text-anchor="start" font-style="italic" fill="#000" stroke="#000" stroke-width="0.05">C. quadrangularis</text>
<text transform="translate(561.6 470.5) rotate(-90) scale(0.938 1)" font-size="22.9" text-anchor="end" fill="#000" stroke="#000" stroke-width="0.18">leaves (g)</text>
<text transform="translate(496.5 476.6)" font-size="34" text-anchor="start" fill="#000" stroke="#000" stroke-width="0.18">E</text>
<path d="M684.6 523.2V512.4H764.3V523.2" fill="none" stroke="#000" stroke-width="4.2" stroke-linejoin="round"/>
<path d="M773.3 523.5V512.6H894.3V525.3" fill="none" stroke="#000" stroke-width="4.2" stroke-linejoin="round"/>
<line x1="856.7" y1="525.3" x2="930.7" y2="525.3" stroke="#000" stroke-width="4.2" stroke-linecap="butt"/>
<path d="M862.3 606.6V595.9H942.7V606.6" fill="none" stroke="#000" stroke-width="4.2" stroke-linejoin="round"/>
<text transform="translate(723.05 507.77)" font-size="20.5" text-anchor="middle" fill="#000" stroke="#000" stroke-width="0.1" letter-spacing="0.9">**</text>
<text transform="translate(829.45 509.47)" font-size="20.5" text-anchor="middle" fill="#000" stroke="#000" stroke-width="0.1" letter-spacing="0.9">**</text>
<text transform="translate(903.75 592.17)" font-size="20.5" text-anchor="middle" fill="#000" stroke="#000" stroke-width="0.1" letter-spacing="0.9">**</text>
</g>
<g id="panel-F">
<line x1="1179" y1="635.6" x2="1179" y2="621.3" stroke="#000" stroke-width="4.5" stroke-linecap="butt"/>
<line x1="1165.4" y1="621.3" x2="1192.6" y2="621.3" stroke="#000" stroke-width="4.5" stroke-linecap="butt"/>
<line x1="1263.3" y1="557.6" x2="1263.3" y2="538.3" stroke="#000" stroke-width="4.5" stroke-linecap="butt"/>
<line x1="1249.7" y1="538.3" x2="1276.9" y2="538.3" stroke="#000" stroke-width="4.5" stroke-linecap="butt"/>
<line x1="1347.7" y1="701.3" x2="1347.7" y2="693" stroke="#000" stroke-width="4.5" stroke-linecap="butt"/>
<line x1="1334.1" y1="693" x2="1361.3" y2="693" stroke="#000" stroke-width="4.5" stroke-linecap="butt"/>
<line x1="1432" y1="682.3" x2="1432" y2="672.3" stroke="#000" stroke-width="4.5" stroke-linecap="butt"/>
<line x1="1418.4" y1="672.3" x2="1445.6" y2="672.3" stroke="#000" stroke-width="4.5" stroke-linecap="butt"/>
<path d="M1147.55 776.1V635.8Q1147.55 632.6 1150.75 632.6H1207.25Q1210.45 632.6 1210.45 635.8V776.1Z" fill="#000000"/>
<line x1="1179" y1="632.1" x2="1179" y2="635.8" stroke="#000" stroke-width="4.5" stroke-linecap="butt"/>
<path d="M1231.85 776.1V557.8Q1231.85 554.6 1235.05 554.6H1291.55Q1294.75 554.6 1294.75 557.8V776.1Z" fill="#98979c"/>
<line x1="1263.3" y1="554.1" x2="1263.3" y2="557.8" stroke="#000" stroke-width="4.5" stroke-linecap="butt"/>
<path d="M1316.25 776.1V701.5Q1316.25 698.3 1319.45 698.3H1375.95Q1379.15 698.3 1379.15 701.5V776.1Z" fill="#777777"/>
<line x1="1347.7" y1="697.8" x2="1347.7" y2="701.5" stroke="#000" stroke-width="4.5" stroke-linecap="butt"/>
<path d="M1400.55 776.1V682.5Q1400.55 679.3 1403.75 679.3H1460.25Q1463.45 679.3 1463.45 682.5V776.1Z" fill="#d0d2d1"/>
<line x1="1432" y1="678.8" x2="1432" y2="682.5" stroke="#000" stroke-width="4.5" stroke-linecap="butt"/>
<line x1="1122.9" y1="493.4" x2="1122.9" y2="778.4" stroke="#000" stroke-width="4.6" stroke-linecap="butt"/>
<line x1="1115.16" y1="776.1" x2="1489.3" y2="776.1" stroke="#000" stroke-width="4.6" stroke-linecap="butt"/>
<text transform="translate(1101.86 784.38) scale(0.798 1)" font-size="25.08" text-anchor="start" fill="#000" stroke="#000" stroke-width="0.18">0</text>
<line x1="1115.16" y1="682.63" x2="1122.9" y2="682.63" stroke="#000" stroke-width="4.4" stroke-linecap="butt"/>
<text transform="translate(1079.86 690.91) scale(0.798 1)" font-size="25.08" text-anchor="start" fill="#000" stroke="#000" stroke-width="0.18">500</text>
<line x1="1115.16" y1="589.17" x2="1122.9" y2="589.17" stroke="#000" stroke-width="4.4" stroke-linecap="butt"/>
<text transform="translate(1068.86 597.44) scale(0.798 1)" font-size="25.08" text-anchor="start" fill="#000" stroke="#000" stroke-width="0.18">1000</text>
<line x1="1115.16" y1="495.7" x2="1122.9" y2="495.7" stroke="#000" stroke-width="4.4" stroke-linecap="butt"/>
<text transform="translate(1068.86 503.98) scale(0.798 1)" font-size="25.08" text-anchor="start" fill="#000" stroke="#000" stroke-width="0.18">1500</text>
<line x1="1179" y1="776.1" x2="1179" y2="783.84" stroke="#000" stroke-width="4.4" stroke-linecap="butt"/>
<text transform="translate(1186.28 801.9) rotate(-47.47)" font-size="23.01" text-anchor="end" fill="#000" stroke="#000" stroke-width="0.18">sunny slope</text>
<line x1="1263.2" y1="776.1" x2="1263.2" y2="783.84" stroke="#000" stroke-width="4.4" stroke-linecap="butt"/>
<text transform="translate(1270.48 801.9) rotate(-47.47)" font-size="23.01" text-anchor="end" fill="#000" stroke="#000" stroke-width="0.18">semi-sunny slope</text>
<line x1="1347.4" y1="776.1" x2="1347.4" y2="783.84" stroke="#000" stroke-width="4.4" stroke-linecap="butt"/>
<text transform="translate(1354.68 801.9) rotate(-47.47)" font-size="23.01" text-anchor="end" fill="#000" stroke="#000" stroke-width="0.18">shady slope</text>
<line x1="1431.7" y1="776.1" x2="1431.7" y2="783.84" stroke="#000" stroke-width="4.4" stroke-linecap="butt"/>
<text transform="translate(1438.98 801.9) rotate(-47.47)" font-size="23.01" text-anchor="end" fill="#000" stroke="#000" stroke-width="0.18">semi-shady slope</text>
<text transform="translate(1056.7 821.3) rotate(-90) scale(1.031 1)" font-size="22.7" text-anchor="start" fill="#000" stroke="#000" stroke-width="0.18">Intake of</text>
<text transform="translate(1056.7 731.6) rotate(-90) scale(1.092 1)" font-size="22.7" text-anchor="start" font-style="italic" fill="#000" stroke="#000" stroke-width="0.05">C. neopurpurea</text>
<text transform="translate(1056.7 478) rotate(-90) scale(1.031 1)" font-size="22.7" text-anchor="end" fill="#000" stroke="#000" stroke-width="0.18">leaves (g)</text>
<text transform="translate(1007.6 475.1)" font-size="34" text-anchor="start" fill="#000" stroke="#000" stroke-width="0.18">F</text>
<path d="M1178.4 521.6V510H1259V521.6" fill="none" stroke="#000" stroke-width="4.2" stroke-linejoin="round"/>
<path d="M1267.3 521.5V510.6H1387.7V523.3" fill="none" stroke="#000" stroke-width="4.2" stroke-linejoin="round"/>
<line x1="1350.7" y1="523.3" x2="1425" y2="523.3" stroke="#000" stroke-width="4.2" stroke-linecap="butt"/>
<text transform="translate(1218.75 503.67)" font-size="20.5" text-anchor="middle" fill="#000" stroke="#000" stroke-width="0.1" letter-spacing="0.9">**</text>
<text transform="translate(1324.45 505.37)" font-size="20.5" text-anchor="middle" fill="#000" stroke="#000" stroke-width="0.1" letter-spacing="0.9">**</text>
</g>
<g id="panel-G">
<line x1="1687" y1="596.1" x2="1687" y2="580.4" stroke="#000" stroke-width="4.5" stroke-linecap="butt"/>
<line x1="1672.4" y1="580.4" x2="1701.6" y2="580.4" stroke="#000" stroke-width="4.5" stroke-linecap="butt"/>
<line x1="1773" y1="641" x2="1773" y2="625.3" stroke="#000" stroke-width="4.5" stroke-linecap="butt"/>
<line x1="1758.4" y1="625.3" x2="1787.6" y2="625.3" stroke="#000" stroke-width="4.5" stroke-linecap="butt"/>
<line x1="1859.5" y1="710.6" x2="1859.5" y2="688.7" stroke="#000" stroke-width="4.5" stroke-linecap="butt"/>
<line x1="1844.9" y1="688.7" x2="1874.1" y2="688.7" stroke="#000" stroke-width="4.5" stroke-linecap="butt"/>
<line x1="1945.8" y1="695" x2="1945.8" y2="676.7" stroke="#000" stroke-width="4.5" stroke-linecap="butt"/>
<line x1="1931.2" y1="676.7" x2="1960.4" y2="676.7" stroke="#000" stroke-width="4.5" stroke-linecap="butt"/>
<path d="M1655 768.9V596.3Q1655 593.1 1658.2 593.1H1715.8Q1719 593.1 1719 596.3V768.9Z" fill="#000000"/>
<line x1="1687" y1="592.6" x2="1687" y2="596.3" stroke="#000" stroke-width="4.5" stroke-linecap="butt"/>
<path d="M1741 768.9V641.2Q1741 638 1744.2 638H1801.8Q1805 638 1805 641.2V768.9Z" fill="#98979c"/>
<line x1="1773" y1="637.5" x2="1773" y2="641.2" stroke="#000" stroke-width="4.5" stroke-linecap="butt"/>
<path d="M1827.5 768.9V710.8Q1827.5 707.6 1830.7 707.6H1888.3Q1891.5 707.6 1891.5 710.8V768.9Z" fill="#777777"/>
<line x1="1859.5" y1="707.1" x2="1859.5" y2="710.8" stroke="#000" stroke-width="4.5" stroke-linecap="butt"/>
<path d="M1913.8 768.9V695.2Q1913.8 692 1917 692H1974.6Q1977.8 692 1977.8 695.2V768.9Z" fill="#d0d2d1"/>
<line x1="1945.8" y1="691.5" x2="1945.8" y2="695.2" stroke="#000" stroke-width="4.5" stroke-linecap="butt"/>
<line x1="1629.6" y1="482.6" x2="1629.6" y2="771.2" stroke="#000" stroke-width="4.6" stroke-linecap="butt"/>
<line x1="1621.8" y1="768.9" x2="2004.7" y2="768.9" stroke="#000" stroke-width="4.6" stroke-linecap="butt"/>
<text transform="translate(1607.83 777.03) scale(0.827 1)" font-size="24.64" text-anchor="start" fill="#000" stroke="#000" stroke-width="0.18">0</text>
<line x1="1621.8" y1="674.23" x2="1629.6" y2="674.23" stroke="#000" stroke-width="4.4" stroke-linecap="butt"/>
<text transform="translate(1585.43 682.36) scale(0.827 1)" font-size="24.64" text-anchor="start" fill="#000" stroke="#000" stroke-width="0.18">500</text>
<line x1="1621.8" y1="579.57" x2="1629.6" y2="579.57" stroke="#000" stroke-width="4.4" stroke-linecap="butt"/>
<text transform="translate(1574.23 587.7) scale(0.827 1)" font-size="24.64" text-anchor="start" fill="#000" stroke="#000" stroke-width="0.18">1000</text>
<line x1="1621.8" y1="484.9" x2="1629.6" y2="484.9" stroke="#000" stroke-width="4.4" stroke-linecap="butt"/>
<text transform="translate(1574.23 493.03) scale(0.827 1)" font-size="24.64" text-anchor="start" fill="#000" stroke="#000" stroke-width="0.18">1500</text>
<line x1="1686.7" y1="768.9" x2="1686.7" y2="776.7" stroke="#000" stroke-width="4.4" stroke-linecap="butt"/>
<text transform="translate(1695.37 796.58) rotate(-45.99)" font-size="23.25" text-anchor="end" fill="#000" stroke="#000" stroke-width="0.18">sunny slope</text>
<line x1="1773" y1="768.9" x2="1773" y2="776.7" stroke="#000" stroke-width="4.4" stroke-linecap="butt"/>
<text transform="translate(1781.67 796.58) rotate(-45.99)" font-size="23.25" text-anchor="end" fill="#000" stroke="#000" stroke-width="0.18">semi-sunny slope</text>
<line x1="1859.7" y1="768.9" x2="1859.7" y2="776.7" stroke="#000" stroke-width="4.4" stroke-linecap="butt"/>
<text transform="translate(1868.37 796.58) rotate(-45.99)" font-size="23.25" text-anchor="end" fill="#000" stroke="#000" stroke-width="0.18">shady slope</text>
<line x1="1946" y1="768.9" x2="1946" y2="776.7" stroke="#000" stroke-width="4.4" stroke-linecap="butt"/>
<text transform="translate(1954.67 796.58) rotate(-45.99)" font-size="23.25" text-anchor="end" fill="#000" stroke="#000" stroke-width="0.18">semi-shady slope</text>
<text transform="translate(1559.7 777.4) rotate(-90) scale(0.98 1)" font-size="23.5" text-anchor="start" fill="#000" stroke="#000" stroke-width="0.18">Intake of</text>
<text transform="translate(1559.7 689.2) rotate(-90) scale(1.101 1)" font-size="23.5" text-anchor="start" font-style="italic" fill="#000" stroke="#000" stroke-width="0.05">P. maculate</text>
<text transform="translate(1559.7 473.6) rotate(-90) scale(1.001 1)" font-size="23.5" text-anchor="end" fill="#000" stroke="#000" stroke-width="0.18">culms (g)</text>
<text transform="translate(1490 480.2)" font-size="34" text-anchor="start" fill="#000" stroke="#000" stroke-width="0.18">G</text>
<path d="M1683.9 559.6V548.6H1764.7V559.6" fill="none" stroke="#000" stroke-width="4.2" stroke-linejoin="round"/>
<path d="M1775.3 559V548.6H1907.3V559.3" fill="none" stroke="#000" stroke-width="4.2" stroke-linejoin="round"/>
<line x1="1858" y1="559.3" x2="1945.7" y2="559.3" stroke="#000" stroke-width="4.2" stroke-linecap="butt"/>
<text transform="translate(1726.75 545.47)" font-size="20.5" text-anchor="middle" fill="#000" stroke="#000" stroke-width="0.1" letter-spacing="0.9">**</text>
<text transform="translate(1838.45 544.47)" font-size="20.5" text-anchor="middle" fill="#000" stroke="#000" stroke-width="0.1" letter-spacing="0.9">**</text>
</g>
<g id="panel-H">
<line x1="182" y1="1123.8" x2="182" y2="1100.7" stroke="#000" stroke-width="4.5" stroke-linecap="butt"/>
<line x1="168.9" y1="1100.7" x2="195.1" y2="1100.7" stroke="#000" stroke-width="4.5" stroke-linecap="butt"/>
<line x1="269.7" y1="1077.3" x2="269.7" y2="1054" stroke="#000" stroke-width="4.5" stroke-linecap="butt"/>
<line x1="256.6" y1="1054" x2="282.8" y2="1054" stroke="#000" stroke-width="4.5" stroke-linecap="butt"/>
<line x1="357.2" y1="1200.6" x2="357.2" y2="1194" stroke="#000" stroke-width="4.5" stroke-linecap="butt"/>
<line x1="344.1" y1="1194" x2="370.3" y2="1194" stroke="#000" stroke-width="4.5" stroke-linecap="butt"/>
<line x1="444.7" y1="1172" x2="444.7" y2="1164.7" stroke="#000" stroke-width="4.5" stroke-linecap="butt"/>
<line x1="431.6" y1="1164.7" x2="457.8" y2="1164.7" stroke="#000" stroke-width="4.5" stroke-linecap="butt"/>
<path d="M153.2 1254.5V1124Q153.2 1120.8 156.4 1120.8H207.6Q210.8 1120.8 210.8 1124V1254.5Z" fill="#000000"/>
<line x1="182" y1="1120.3" x2="182" y2="1124" stroke="#000" stroke-width="4.5" stroke-linecap="butt"/>
<path d="M240.9 1254.5V1077.5Q240.9 1074.3 244.1 1074.3H295.3Q298.5 1074.3 298.5 1077.5V1254.5Z" fill="#98979c"/>
<line x1="269.7" y1="1073.8" x2="269.7" y2="1077.5" stroke="#000" stroke-width="4.5" stroke-linecap="butt"/>
<path d="M328.4 1254.5V1200.8Q328.4 1197.6 331.6 1197.6H382.8Q386 1197.6 386 1200.8V1254.5Z" fill="#777777"/>
<line x1="357.2" y1="1197.1" x2="357.2" y2="1200.8" stroke="#000" stroke-width="4.5" stroke-linecap="butt"/>
<path d="M415.9 1254.5V1172.2Q415.9 1169 419.1 1169H470.3Q473.5 1169 473.5 1172.2V1254.5Z" fill="#d0d2d1"/>
<line x1="444.7" y1="1168.5" x2="444.7" y2="1172.2" stroke="#000" stroke-width="4.5" stroke-linecap="butt"/>
<line x1="130.7" y1="978.1" x2="130.7" y2="1256.8" stroke="#000" stroke-width="4.6" stroke-linecap="butt"/>
<line x1="123.07" y1="1254.5" x2="498.3" y2="1254.5" stroke="#000" stroke-width="4.6" stroke-linecap="butt"/>
<text transform="translate(109.23 1262.67) scale(0.812 1)" font-size="24.75" text-anchor="start" fill="#000" stroke="#000" stroke-width="0.18">0</text>
<line x1="123.07" y1="1185.97" x2="130.7" y2="1185.97" stroke="#000" stroke-width="4.4" stroke-linecap="butt"/>
<text transform="translate(87.13 1194.14) scale(0.812 1)" font-size="24.75" text-anchor="start" fill="#000" stroke="#000" stroke-width="0.18">500</text>
<line x1="123.07" y1="1117.45" x2="130.7" y2="1117.45" stroke="#000" stroke-width="4.4" stroke-linecap="butt"/>
<text transform="translate(76.08 1125.62) scale(0.812 1)" font-size="24.75" text-anchor="start" fill="#000" stroke="#000" stroke-width="0.18">1000</text>
<line x1="123.07" y1="1048.92" x2="130.7" y2="1048.92" stroke="#000" stroke-width="4.4" stroke-linecap="butt"/>
<text transform="translate(76.08 1057.09) scale(0.812 1)" font-size="24.75" text-anchor="start" fill="#000" stroke="#000" stroke-width="0.18">1500</text>
<line x1="123.07" y1="980.4" x2="130.7" y2="980.4" stroke="#000" stroke-width="4.4" stroke-linecap="butt"/>
<text transform="translate(76.08 988.57) scale(0.812 1)" font-size="24.75" text-anchor="start" fill="#000" stroke="#000" stroke-width="0.18">2000</text>
<line x1="182.1" y1="1254.5" x2="182.1" y2="1262.13" stroke="#000" stroke-width="4.4" stroke-linecap="butt"/>
<text transform="translate(190.5 1281.35) rotate(-46.12)" font-size="22.55" text-anchor="end" fill="#000" stroke="#000" stroke-width="0.18">sunny slope</text>
<line x1="269.3" y1="1254.5" x2="269.3" y2="1262.13" stroke="#000" stroke-width="4.4" stroke-linecap="butt"/>
<text transform="translate(277.7 1281.35) rotate(-46.12)" font-size="22.55" text-anchor="end" fill="#000" stroke="#000" stroke-width="0.18">semi-sunny slope</text>
<line x1="357" y1="1254.5" x2="357" y2="1262.13" stroke="#000" stroke-width="4.4" stroke-linecap="butt"/>
<text transform="translate(365.4 1281.35) rotate(-46.12)" font-size="22.55" text-anchor="end" fill="#000" stroke="#000" stroke-width="0.18">shady slope</text>
<line x1="444.3" y1="1254.5" x2="444.3" y2="1262.13" stroke="#000" stroke-width="4.4" stroke-linecap="butt"/>
<text transform="translate(452.7 1281.35) rotate(-46.12)" font-size="22.55" text-anchor="end" fill="#000" stroke="#000" stroke-width="0.18">semi-shady slope</text>
<text transform="translate(56.7 1267.6) rotate(-90) scale(0.994 1)" font-size="23.4" text-anchor="start" fill="#000" stroke="#000" stroke-width="0.18">Intake of</text>
<text transform="translate(56.7 1178.5) rotate(-90) scale(1.049 1)" font-size="23.4" text-anchor="start" font-style="italic" fill="#000" stroke="#000" stroke-width="0.05">P. nidularia</text>
<text transform="translate(56.7 966.7) rotate(-90) scale(1.015 1)" font-size="23.4" text-anchor="end" fill="#000" stroke="#000" stroke-width="0.18">culms (g)</text>
<text transform="translate(11.3 951.4)" font-size="34" text-anchor="start" fill="#000" stroke="#000" stroke-width="0.18">H</text>
<path d="M177.9 1031.5V1021.1H262V1031.5" fill="none" stroke="#000" stroke-width="4.2" stroke-linejoin="round"/>
<path d="M268.3 1031V1021.1H390.7V1031.7" fill="none" stroke="#000" stroke-width="4.2" stroke-linejoin="round"/>
<line x1="350.7" y1="1031.7" x2="428.3" y2="1031.7" stroke="#000" stroke-width="4.2" stroke-linecap="butt"/>
<path d="M360 1147.3V1136H441V1147.3" fill="none" stroke="#000" stroke-width="4.2" stroke-linejoin="round"/>
<text transform="translate(218.65 1019.07)" font-size="20.5" text-anchor="middle" fill="#000" stroke="#000" stroke-width="0.1" letter-spacing="0.9">**</text>
<text transform="translate(332.75 1017.37)" font-size="20.5" text-anchor="middle" fill="#000" stroke="#000" stroke-width="0.1" letter-spacing="0.9">**</text>
<text transform="translate(399.45 1132.37)" font-size="20.5" text-anchor="middle" fill="#000" stroke="#000" stroke-width="0.1" letter-spacing="0.9">**</text>
</g>
<g id="panel-I">
<line x1="684.8" y1="1119" x2="684.8" y2="1073.3" stroke="#000" stroke-width="4.5" stroke-linecap="butt"/>
<line x1="669.7" y1="1073.3" x2="699.9" y2="1073.3" stroke="#000" stroke-width="4.5" stroke-linecap="butt"/>
<line x1="774.5" y1="1140.3" x2="774.5" y2="1100.7" stroke="#000" stroke-width="4.5" stroke-linecap="butt"/>
<line x1="759.4" y1="1100.7" x2="789.6" y2="1100.7" stroke="#000" stroke-width="4.5" stroke-linecap="butt"/>
<line x1="864.5" y1="1220.6" x2="864.5" y2="1208" stroke="#000" stroke-width="4.5" stroke-linecap="butt"/>
<line x1="849.4" y1="1208" x2="879.6" y2="1208" stroke="#000" stroke-width="4.5" stroke-linecap="butt"/>
<line x1="954.7" y1="1178.6" x2="954.7" y2="1153.3" stroke="#000" stroke-width="4.5" stroke-linecap="butt"/>
<line x1="939.6" y1="1153.3" x2="969.8" y2="1153.3" stroke="#000" stroke-width="4.5" stroke-linecap="butt"/>
<path d="M651.65 1270.5V1119.2Q651.65 1116 654.85 1116H714.75Q717.95 1116 717.95 1119.2V1270.5Z" fill="#000000"/>
<line x1="684.8" y1="1115.5" x2="684.8" y2="1119.2" stroke="#000" stroke-width="4.5" stroke-linecap="butt"/>
<path d="M741.35 1270.5V1140.5Q741.35 1137.3 744.55 1137.3H804.45Q807.65 1137.3 807.65 1140.5V1270.5Z" fill="#98979c"/>
<line x1="774.5" y1="1136.8" x2="774.5" y2="1140.5" stroke="#000" stroke-width="4.5" stroke-linecap="butt"/>
<path d="M831.35 1270.5V1220.8Q831.35 1217.6 834.55 1217.6H894.45Q897.65 1217.6 897.65 1220.8V1270.5Z" fill="#777777"/>
<line x1="864.5" y1="1217.1" x2="864.5" y2="1220.8" stroke="#000" stroke-width="4.5" stroke-linecap="butt"/>
<path d="M921.55 1270.5V1178.8Q921.55 1175.6 924.75 1175.6H984.65Q987.85 1175.6 987.85 1178.8V1270.5Z" fill="#d0d2d1"/>
<line x1="954.7" y1="1175.1" x2="954.7" y2="1178.8" stroke="#000" stroke-width="4.5" stroke-linecap="butt"/>
<line x1="624.7" y1="969.3" x2="624.7" y2="1272.8" stroke="#000" stroke-width="4.6" stroke-linecap="butt"/>
<line x1="616.73" y1="1270.5" x2="1016.7" y2="1270.5" stroke="#000" stroke-width="4.6" stroke-linecap="butt"/>
<text transform="translate(602.04 1279.34) scale(0.791 1)" font-size="26.79" text-anchor="start" fill="#000" stroke="#000" stroke-width="0.18">0</text>
<line x1="616.73" y1="1170.87" x2="624.7" y2="1170.87" stroke="#000" stroke-width="4.4" stroke-linecap="butt"/>
<text transform="translate(578.74 1179.71) scale(0.791 1)" font-size="26.79" text-anchor="start" fill="#000" stroke="#000" stroke-width="0.18">500</text>
<line x1="616.73" y1="1071.23" x2="624.7" y2="1071.23" stroke="#000" stroke-width="4.4" stroke-linecap="butt"/>
<text transform="translate(567.09 1080.08) scale(0.791 1)" font-size="26.79" text-anchor="start" fill="#000" stroke="#000" stroke-width="0.18">1000</text>
<line x1="616.73" y1="971.6" x2="624.7" y2="971.6" stroke="#000" stroke-width="4.4" stroke-linecap="butt"/>
<text transform="translate(567.09 980.44) scale(0.791 1)" font-size="26.79" text-anchor="start" fill="#000" stroke="#000" stroke-width="0.18">1500</text>
<line x1="684.5" y1="1270.5" x2="684.5" y2="1278.47" stroke="#000" stroke-width="4.4" stroke-linecap="butt"/>
<text transform="translate(692.65 1299.57) rotate(-46.94)" font-size="24" text-anchor="end" fill="#000" stroke="#000" stroke-width="0.18">sunny slope</text>
<line x1="774.7" y1="1270.5" x2="774.7" y2="1278.47" stroke="#000" stroke-width="4.4" stroke-linecap="butt"/>
<text transform="translate(782.85 1299.57) rotate(-46.94)" font-size="24" text-anchor="end" fill="#000" stroke="#000" stroke-width="0.18">semi-sunny slope</text>
<line x1="864.7" y1="1270.5" x2="864.7" y2="1278.47" stroke="#000" stroke-width="4.4" stroke-linecap="butt"/>
<text transform="translate(872.85 1299.57) rotate(-46.94)" font-size="24" text-anchor="end" fill="#000" stroke="#000" stroke-width="0.18">shady slope</text>
<line x1="954.6" y1="1270.5" x2="954.6" y2="1278.47" stroke="#000" stroke-width="4.4" stroke-linecap="butt"/>
<text transform="translate(962.75 1299.57) rotate(-46.94)" font-size="24" text-anchor="end" fill="#000" stroke="#000" stroke-width="0.18">semi-shady slope</text>
<text transform="translate(557.3 1319.4) rotate(-90) scale(0.979 1)" font-size="24.4" text-anchor="start" fill="#000" stroke="#000" stroke-width="0.18">Intake of</text>
<text transform="translate(557.3 1227.9) rotate(-90) scale(1.109 1)" font-size="24.4" text-anchor="start" font-style="italic" fill="#000" stroke="#000" stroke-width="0.05">C. szechuanensis</text>
<text transform="translate(557.3 943.7) rotate(-90) scale(1.004 1)" font-size="24.4" text-anchor="end" fill="#000" stroke="#000" stroke-width="0.18">culms (g)</text>
<text transform="translate(507.2 951.4)" font-size="34" text-anchor="start" fill="#000" stroke="#000" stroke-width="0.18">I</text>
<path d="M726.6 1042.9V1029.2H907.7V1042.2" fill="none" stroke="#000" stroke-width="4.2" stroke-linejoin="round"/>
<line x1="688.5" y1="1042.9" x2="772" y2="1042.9" stroke="#000" stroke-width="4.2" stroke-linecap="butt"/>
<line x1="865" y1="1042.2" x2="948.3" y2="1042.2" stroke="#000" stroke-width="4.2" stroke-linecap="butt"/>
<path d="M867.7 1128.6V1116.3H954V1128.6" fill="none" stroke="#000" stroke-width="4.2" stroke-linejoin="round"/>
<text transform="translate(818.75 1024.27)" font-size="20.5" text-anchor="middle" fill="#000" stroke="#000" stroke-width="0.1" letter-spacing="0.9">**</text>
<text transform="translate(912.75 1109.27)" font-size="20.5" text-anchor="middle" fill="#000" stroke="#000" stroke-width="0.1" letter-spacing="0.9">**</text>
</g>
<g id="panel-J">
<line x1="1200.7" y1="1070.5" x2="1200.7" y2="1039.2" stroke="#000" stroke-width="4.5" stroke-linecap="butt"/>
<line x1="1184.3" y1="1039.2" x2="1217.1" y2="1039.2" stroke="#000" stroke-width="4.5" stroke-linecap="butt"/>
<line x1="1297" y1="1100.3" x2="1297" y2="1046.3" stroke="#000" stroke-width="4.5" stroke-linecap="butt"/>
<line x1="1280.6" y1="1046.3" x2="1313.4" y2="1046.3" stroke="#000" stroke-width="4.5" stroke-linecap="butt"/>
<line x1="1393.5" y1="1199" x2="1393.5" y2="1179.3" stroke="#000" stroke-width="4.5" stroke-linecap="butt"/>
<line x1="1377.1" y1="1179.3" x2="1409.9" y2="1179.3" stroke="#000" stroke-width="4.5" stroke-linecap="butt"/>
<line x1="1490.2" y1="1164.6" x2="1490.2" y2="1147" stroke="#000" stroke-width="4.5" stroke-linecap="butt"/>
<line x1="1473.8" y1="1147" x2="1506.6" y2="1147" stroke="#000" stroke-width="4.5" stroke-linecap="butt"/>
<path d="M1165.2 1277.9V1070.7Q1165.2 1067.5 1168.4 1067.5H1233Q1236.2 1067.5 1236.2 1070.7V1277.9Z" fill="#000000"/>
<line x1="1200.7" y1="1067" x2="1200.7" y2="1070.7" stroke="#000" stroke-width="4.5" stroke-linecap="butt"/>
<path d="M1261.5 1277.9V1100.5Q1261.5 1097.3 1264.7 1097.3H1329.3Q1332.5 1097.3 1332.5 1100.5V1277.9Z" fill="#98979c"/>
<line x1="1297" y1="1096.8" x2="1297" y2="1100.5" stroke="#000" stroke-width="4.5" stroke-linecap="butt"/>
<path d="M1358 1277.9V1199.2Q1358 1196 1361.2 1196H1425.8Q1429 1196 1429 1199.2V1277.9Z" fill="#777777"/>
<line x1="1393.5" y1="1195.5" x2="1393.5" y2="1199.2" stroke="#000" stroke-width="4.5" stroke-linecap="butt"/>
<path d="M1454.7 1277.9V1164.8Q1454.7 1161.6 1457.9 1161.6H1522.5Q1525.7 1161.6 1525.7 1164.8V1277.9Z" fill="#d0d2d1"/>
<line x1="1490.2" y1="1161.1" x2="1490.2" y2="1164.8" stroke="#000" stroke-width="4.5" stroke-linecap="butt"/>
<line x1="1136.5" y1="980.7" x2="1136.5" y2="1280.2" stroke="#000" stroke-width="4.6" stroke-linecap="butt"/>
<line x1="1128.38" y1="1277.9" x2="1556" y2="1277.9" stroke="#000" stroke-width="4.6" stroke-linecap="butt"/>
<text transform="translate(1112.76 1286.66) scale(0.85 1)" font-size="26.54" text-anchor="start" fill="#000" stroke="#000" stroke-width="0.18">0</text>
<line x1="1128.38" y1="1218.92" x2="1136.5" y2="1218.92" stroke="#000" stroke-width="4.4" stroke-linecap="butt"/>
<text transform="translate(1087.96 1227.68) scale(0.85 1)" font-size="26.54" text-anchor="start" fill="#000" stroke="#000" stroke-width="0.18">200</text>
<line x1="1128.38" y1="1159.94" x2="1136.5" y2="1159.94" stroke="#000" stroke-width="4.4" stroke-linecap="butt"/>
<text transform="translate(1087.96 1168.7) scale(0.85 1)" font-size="26.54" text-anchor="start" fill="#000" stroke="#000" stroke-width="0.18">400</text>
<line x1="1128.38" y1="1100.96" x2="1136.5" y2="1100.96" stroke="#000" stroke-width="4.4" stroke-linecap="butt"/>
<text transform="translate(1087.96 1109.72) scale(0.85 1)" font-size="26.54" text-anchor="start" fill="#000" stroke="#000" stroke-width="0.18">600</text>
<line x1="1128.38" y1="1041.98" x2="1136.5" y2="1041.98" stroke="#000" stroke-width="4.4" stroke-linecap="butt"/>
<text transform="translate(1087.96 1050.74) scale(0.85 1)" font-size="26.54" text-anchor="start" fill="#000" stroke="#000" stroke-width="0.18">800</text>
<line x1="1128.38" y1="983" x2="1136.5" y2="983" stroke="#000" stroke-width="4.4" stroke-linecap="butt"/>
<text transform="translate(1075.56 991.76) scale(0.85 1)" font-size="26.54" text-anchor="start" fill="#000" stroke="#000" stroke-width="0.18">1000</text>
<line x1="1200.7" y1="1277.9" x2="1200.7" y2="1286.02" stroke="#000" stroke-width="4.4" stroke-linecap="butt"/>
<text transform="translate(1209.88 1307.52) rotate(-44.13)" font-size="24.63" text-anchor="end" fill="#000" stroke="#000" stroke-width="0.18">sunny slope</text>
<line x1="1297" y1="1277.9" x2="1297" y2="1286.02" stroke="#000" stroke-width="4.4" stroke-linecap="butt"/>
<text transform="translate(1306.18 1307.52) rotate(-44.13)" font-size="24.63" text-anchor="end" fill="#000" stroke="#000" stroke-width="0.18">semi-sunny slope</text>
<line x1="1393.3" y1="1277.9" x2="1393.3" y2="1286.02" stroke="#000" stroke-width="4.4" stroke-linecap="butt"/>
<text transform="translate(1402.48 1307.52) rotate(-44.13)" font-size="24.63" text-anchor="end" fill="#000" stroke="#000" stroke-width="0.18">shady slope</text>
<line x1="1490" y1="1277.9" x2="1490" y2="1286.02" stroke="#000" stroke-width="4.4" stroke-linecap="butt"/>
<text transform="translate(1499.18 1307.52) rotate(-44.13)" font-size="24.63" text-anchor="end" fill="#000" stroke="#000" stroke-width="0.18">semi-shady slope</text>
<text transform="translate(1066.9 1315) rotate(-90) scale(0.927 1)" font-size="25.6" text-anchor="start" fill="#000" stroke="#000" stroke-width="0.18">Intake of</text>
<text transform="translate(1066.9 1224.1) rotate(-90) scale(1.058 1)" font-size="25.6" text-anchor="start" font-style="italic" fill="#000" stroke="#000" stroke-width="0.05">C. neopurpurea</text>
<text transform="translate(1066.9 955.5) rotate(-90) scale(0.944 1)" font-size="25.6" text-anchor="end" fill="#000" stroke="#000" stroke-width="0.18">culms (g)</text>
<text transform="translate(1000.3 962)" font-size="34" text-anchor="start" fill="#000" stroke="#000" stroke-width="0.18">J</text>
<path d="M1248.3 1012.9V999H1442.7V1012.7" fill="none" stroke="#000" stroke-width="4.2" stroke-linejoin="round"/>
<line x1="1207.4" y1="1012.9" x2="1297" y2="1012.9" stroke="#000" stroke-width="4.2" stroke-linecap="butt"/>
<line x1="1396.7" y1="1012.7" x2="1486" y2="1012.7" stroke="#000" stroke-width="4.2" stroke-linecap="butt"/>
<text transform="translate(1341.15 994.67)" font-size="20.5" text-anchor="middle" fill="#000" stroke="#000" stroke-width="0.1" letter-spacing="0.9">**</text>
</g>
</svg>
</body>
</html>
